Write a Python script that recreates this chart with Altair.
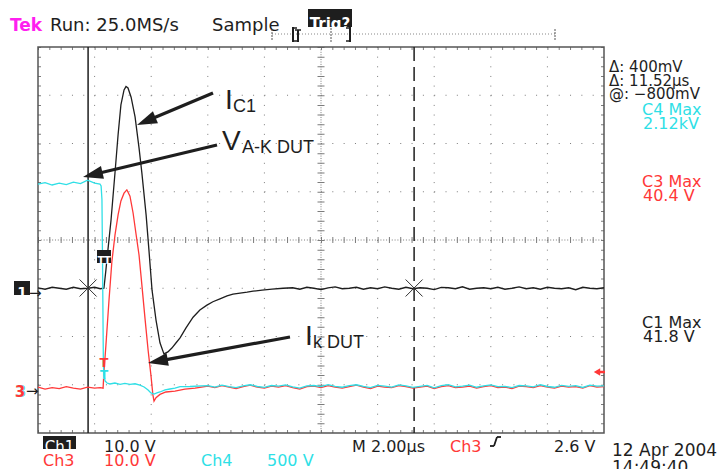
import math
import altair as alt
import pandas as pd

# ---------------- values ----------------
# time: µs from the left edge of the graticule (M 2.00 µs/div, 10 div)
black_t = [0.00, 0.25, 0.50, 0.75, 1.00, 1.25, 1.50, 1.77, 2.00, 2.20,
           2.33, 2.40, 2.47, 2.58, 2.72, 2.83, 2.93, 3.04, 3.11, 3.18,
           3.29, 3.43, 3.57, 3.67, 3.82, 3.92, 4.03, 4.17, 4.31, 4.45,
           4.59, 4.73, 4.88, 5.02, 5.23, 5.48, 5.72, 5.97, 6.18, 6.43,
           6.68, 6.89, 7.14, 7.39, 7.60, 7.92, 8.27, 8.66,
           9.00, 9.25, 9.50, 9.75, 10.00, 10.25, 10.50, 10.75, 11.00, 11.25,
           11.50, 11.75, 12.00, 12.25, 12.50, 12.75, 13.00, 13.25, 13.50, 13.75,
           14.00, 14.25, 14.50, 14.75, 15.00, 15.25, 15.50, 15.75, 16.00, 16.25,
           16.50, 16.75, 17.00, 17.25, 17.50, 17.75, 18.00, 18.25, 18.50, 18.75,
           19.00, 19.25, 19.50, 19.75, 20.00]
# Ch1 (I_C1), volts, 10 V/div
black_v = [0.1, -0.2, 0.2, 0.0, -0.2, 0.2, -0.1, 0.0, 0.2, -0.1,
           0.0, 3.8, 7.9, 14.1, 23.9, 31.8, 38.0, 41.1, 41.8, 41.5,
           39.6, 35.5, 29.1, 23.9, 15.2, 7.9, -0.4, -6.6, -11.3, -13.6,
           -13.2, -12.4, -11.3, -10.3, -8.2, -6.0, -4.5, -3.5, -2.8, -2.2,
           -1.6, -1.2, -1.0, -0.8, -0.6, -0.4, -0.2, 0.0,
           0.1, -0.2, 0.2, 0.0, -0.3, 0.1, 0.3, -0.1, 0.0, 0.2,
           -0.2, 0.1, -0.1, 0.3, 0.0, -0.2, 0.2, -0.1, 0.1, 0.0,
           -0.3, 0.2, 0.1, -0.1, 0.3, -0.2, 0.0, 0.1, -0.1, 0.2,
           -0.2, 0.0, 0.3, -0.1, 0.1, -0.2, 0.2, 0.0, -0.1, 0.1,
           -0.3, 0.2, 0.0, -0.1, 0.1]

red_t = [0.00, 0.25, 0.50, 0.75, 1.00, 1.25, 1.50, 1.75, 2.00, 2.20,
         2.30, 2.33, 2.40, 2.51, 2.61, 2.72, 2.83, 2.93, 3.04, 3.14,
         3.25, 3.36, 3.46, 3.57, 3.67, 3.78, 3.89, 3.99, 4.06, 4.10,
         4.17, 4.31, 4.52, 4.84, 5.19, 5.55,
         6.00, 6.25, 6.50, 6.75, 7.00, 7.25, 7.50, 7.75, 8.00, 8.25,
         8.50, 8.75, 9.00, 9.25, 9.50, 9.75, 10.00, 10.25, 10.50, 10.75,
         11.00, 11.25, 11.50, 11.75, 12.00, 12.25, 12.50, 12.75, 13.00, 13.25,
         13.50, 13.75, 14.00, 14.25, 14.50, 14.75, 15.00, 15.25, 15.50, 15.75,
         16.00, 16.25, 16.50, 16.75, 17.00, 17.25, 17.50, 17.75, 18.00, 18.25,
         18.50, 18.75, 19.00, 19.25, 19.50, 19.75, 20.00]
# Ch3 (I_k DUT), volts, 10 V/div
red_v = [-0.5, -0.9, -0.6, -0.8, -0.4, -0.7, -0.9, -0.5, -0.7, -0.6,
         -0.7, 2.6, 8.2, 17.6, 25.5, 31.0, 35.2, 38.1, 39.7, 40.4,
         39.1, 35.6, 31.4, 26.9, 20.7, 13.8, 7.2, 2.0, -2.1, -3.4,
         -2.7, -2.0, -1.5, -1.3, -0.9, -0.7,
         -0.3, -0.6, -0.2, -0.5, -0.8, -0.4, -0.1, -0.5, -0.7, -0.3,
         -0.5, -0.2, -0.6, -0.9, -0.4, -0.3, -0.6, -0.2, -0.5, -0.7,
         -0.4, -0.1, -0.5, -0.8, -0.3, -0.5, -0.6, -0.2, -0.4, -0.7,
         -0.5, -0.3, -0.8, -0.4, -0.2, -0.6, -0.5, -0.3, -0.7, -0.4,
         -0.2, -0.6, -0.5, -0.8, -0.3, -0.4, -0.6, -0.2, -0.5, -0.7,
         -0.3, -0.5, -0.4, -0.7, -0.2, -0.5, -0.4]

cyan_t = [0.00, 0.25, 0.50, 0.75, 1.00, 1.25, 1.50, 1.75, 2.00, 2.19,
          2.23, 2.26, 2.28, 2.30, 2.31, 2.33, 2.37, 2.44, 2.54, 2.72,
          2.90, 3.07, 3.25, 3.43, 3.60, 3.75, 3.89, 3.99, 4.10, 4.20,
          4.31, 4.49, 4.66, 4.84, 5.02, 5.37,
          6.00, 6.25, 6.50, 6.75, 7.00, 7.25, 7.50, 7.75, 8.00, 8.25,
          8.50, 8.75, 9.00, 9.25, 9.50, 9.75, 10.00, 10.25, 10.50, 10.75,
          11.00, 11.25, 11.50, 11.75, 12.00, 12.25, 12.50, 12.75, 13.00, 13.25,
          13.50, 13.75, 14.00, 14.25, 14.50, 14.75, 15.00, 15.25, 15.50, 15.75,
          16.00, 16.25, 16.50, 16.75, 17.00, 17.25, 17.50, 17.75, 18.00, 18.25,
          18.50, 18.75, 19.00, 19.25, 19.50, 19.75, 20.00]
# Ch4 (V_A-K DUT), volts, 500 V/div
cyan_v = [2080, 2095, 2070, 2090, 2075, 2100, 2085, 2120, 2090, 2080,
          2060, 1917, 1293, 567, 205, 101, 39, 18, 8, 18,
          5, 15, 3, 10, -3, -23, -54, -85, -96, -85,
          -75, -54, -44, -34, -20, -18,
          -10, -25, -5, -20, -30, -12, 0, -18, -28, -8,
          -15, -2, -22, -35, -12, -8, -20, 2, -16, -26,
          -10, 0, -18, -30, -6, -14, -24, -2, -12, -28,
          -16, -6, -32, -10, 0, -22, -14, -4, -26, -12,
          -2, -20, -16, -30, -8, -12, -22, 0, -18, -26,
          -6, -16, -10, -28, -4, -14, -12]

cursor_t = [1.77, 13.29]          # Δ = 11.52 µs
grid_t = [2, 4, 6, 8, 12, 14, 16, 18]
grid_div = [-3, -2, -1, 1, 2, 3]

# ---------------- layout / style ----------------
W, H = 566, 386
OX, OY = 38, 47            # page position of the graticule's top-left corner
GRID = "#7c7c7c"
INK = "#1e1e1e"
RED = "#ff3838"
CYAN = "#2fdfe6"
MAG = "#ff1ff0"
SCOPE_FONT = "DejaVu Sans"
ANN_FONT = "Liberation Sans"

xs = alt.Scale(domain=[0, 20], nice=False, zero=False)
div_scale = alt.Scale(domain=[-4, 4], nice=False, zero=False)
ch1_scale = alt.Scale(domain=[-30, 50], nice=False, zero=False)
ch3_scale = alt.Scale(domain=[-10, 70], nice=False, zero=False)
ch4_scale = alt.Scale(domain=[-500, 3500], nice=False, zero=False)

one = pd.DataFrame({"k": [0]})
HMINOR = W / 50.0
VMINOR = H / 40.0


def hline_px(yv, dash, width=1.0, color=GRID):
    return alt.Chart(one).mark_rule(color=color, strokeWidth=width, strokeDash=dash).encode(
        x=alt.value(0), x2=alt.value(W), y=alt.value(yv))


def vline_px(xv, dash, width=1.0, color=GRID):
    return alt.Chart(one).mark_rule(color=color, strokeWidth=width, strokeDash=dash).encode(
        x=alt.value(xv), y=alt.value(0), y2=alt.value(H))


def trace(t, v, scale, color):
    df = pd.DataFrame({"t": t, "v": v})
    return alt.Chart(df).mark_line(color=color, strokeWidth=1.3).encode(
        x=alt.X("t:Q", scale=xs, axis=None),
        y=alt.Y("v:Q", scale=scale, axis=None))


def label(rows, **kw):
    df = pd.DataFrame({"s": [r[0] for r in rows],
                       "px": [r[1] - OX for r in rows],
                       "py": [r[2] - OY for r in rows]})
    return alt.Chart(df).mark_text(**kw).encode(
        x=alt.X("px:Q", scale=None, axis=None),
        y=alt.Y("py:Q", scale=None, axis=None),
        text="s:N")


def boxes(rows, color):
    df = pd.DataFrame({"x1": [r[0] - OX for r in rows], "x2": [r[2] - OX for r in rows],
                       "y1": [r[1] - OY for r in rows], "y2": [r[3] - OY for r in rows]})
    return alt.Chart(df).mark_rect(color=color).encode(
        x=alt.X("x1:Q", scale=None, axis=None), x2="x2:Q",
        y=alt.Y("y1:Q", scale=None, axis=None), y2="y2:Q")


def segs(rows, color, width, dash=None):
    df = pd.DataFrame({"x1": [r[0] - OX for r in rows], "y1": [r[1] - OY for r in rows],
                       "x2": [r[2] - OX for r in rows], "y2": [r[3] - OY for r in rows]})
    kw = dict(color=color, strokeWidth=width)
    if dash:
        kw["strokeDash"] = dash
    return alt.Chart(df).mark_rule(**kw).encode(
        x=alt.X("x1:Q", scale=None, axis=None), x2="x2:Q",
        y=alt.Y("y1:Q", scale=None, axis=None), y2="y2:Q")


layers = []

# ---- graticule ----
layers.append(alt.Chart(pd.DataFrame({"d": grid_div})).mark_rule(
    color=GRID, strokeWidth=1, strokeDash=[1, HMINOR - 1]).encode(
    x=alt.value(0), x2=alt.value(W), y=alt.Y("d:Q", scale=div_scale, axis=None)))
layers.append(alt.Chart(pd.DataFrame({"t": grid_t})).mark_rule(
    color=GRID, strokeWidth=1, strokeDash=[1, VMINOR - 1]).encode(
    x=alt.X("t:Q", scale=xs, axis=None), y=alt.value(0), y2=alt.value(H)))
# centre cross with minor ticks
layers.append(hline_px(H / 2, [1, HMINOR / 4 - 1]))
layers.append(hline_px(H / 2, [1, HMINOR - 1], width=6))
layers.append(vline_px(W / 2, [1, VMINOR / 4 - 1]))
layers.append(vline_px(W / 2, [1, VMINOR - 1], width=7))
# ticks along the frame
layers.append(hline_px(1.5, [1, HMINOR - 1], width=3))
layers.append(hline_px(H - 1.5, [1, HMINOR - 1], width=3))
layers.append(vline_px(1.5, [1, VMINOR - 1], width=3))
layers.append(vline_px(W - 1.5, [1, VMINOR - 1], width=3))
# frame
layers.append(alt.Chart(one).mark_rect(fill="transparent", stroke="#555555", strokeWidth=1.5).encode(
    x=alt.value(0), x2=alt.value(W), y=alt.value(0), y2=alt.value(H)))

# ---- cursors ----
cur = pd.DataFrame({"t": cursor_t, "kind": ["a", "b"]})
layers.append(alt.Chart(cur.iloc[[0]]).mark_rule(color=INK, strokeWidth=1.5).encode(
    x=alt.X("t:Q", scale=xs, axis=None), y=alt.value(0), y2=alt.value(H)))
layers.append(alt.Chart(cur.iloc[[1]]).mark_rule(color=INK, strokeWidth=1.5, strokeDash=[14, 6]).encode(
    x=alt.X("t:Q", scale=xs, axis=None), y=alt.value(0), y2=alt.value(H)))

# ---- traces ----
layers.append(trace(black_t, black_v, ch1_scale, INK))
layers.append(trace(red_t, red_v, ch3_scale, RED))
layers.append(trace(cyan_t, cyan_v, ch4_scale, CYAN))

# cursor crossing marks
layers.append(alt.Chart(cur).mark_point(shape="M-1,-1L1,1M-1,1L1,-1", filled=False, color="#333333",
                                        strokeWidth=1, size=289, opacity=1).encode(
    x=alt.X("t:Q", scale=xs, axis=None), y=alt.value(288 - OY)))

# ---- channel / trigger markers ----
layers.append(boxes([(14, 281, 30, 295), (97, 250, 111, 263)], INK))
layers.append(label([("1", 22, 293)], font=SCOPE_FONT, fontSize=14, fontWeight="bold", color="white", align="center"))
layers.append(label([("T", 101, 261), ("T", 107.5, 261)], font=SCOPE_FONT, fontSize=10, fontWeight="bold",
                    color="white", align="center"))
layers.append(label([("→", 29, 293), ("→", 26, 391)], font=SCOPE_FONT, fontSize=15, color=INK, align="left"))
layers.append(label([("3", 21, 392)], font=SCOPE_FONT, fontSize=15, fontWeight="bold", color=CYAN, align="center"))
layers.append(label([("3", 20, 392)], font=SCOPE_FONT, fontSize=15, fontWeight="bold", color=RED, align="center"))
layers.append(label([("T", 104, 363)], font=SCOPE_FONT, fontSize=13, fontWeight="bold", color=RED, align="center"))
layers.append(label([("T", 104, 375)], font=SCOPE_FONT, fontSize=12, fontWeight="bold", color=CYAN, align="center"))
# trigger level arrow (Ch3, 2.6 V)
layers.append(segs([(597, 372, 605, 372)], RED, 2.5))
layers.append(alt.Chart(one).mark_point(shape="triangle-left", filled=True, color=RED, size=55, opacity=1).encode(
    x=alt.value(597 - OX), y=alt.value(372 - OY)))

# ---- header ----
layers.append(label([("Tek", 10, 26)], font=SCOPE_FONT, fontSize=17, fontWeight="bold", color=MAG, align="left"))
layers.append(label([("Run: 25.0MS/s", 50, 26), ("Sample", 212, 26)], font=SCOPE_FONT, fontSize=18,
                    color=INK, align="left"))
layers.append(boxes([(308, 9, 352, 27)], INK))
layers.append(label([("Trig?", 330, 24)], font=SCOPE_FONT, fontSize=15, fontWeight="bold", color="white",
                    align="center"))
layers.append(segs([(272, 34, 555, 34)], "#888888", 1, [1, 2]))
layers.append(segs([(272, 29, 272, 40), (555, 29, 555, 40), (331, 28, 331, 42)], "#555555", 1, [2, 1]))
layers.append(segs([(293, 27, 293, 42), (350, 27, 350, 42), (298, 30, 298, 42)], INK, 2))
layers.append(segs([(293, 28, 297, 28), (293, 41, 297, 41), (346, 28, 350, 28), (346, 41, 350, 41),
                    (295, 30, 301, 30)], INK, 1.5))

# ---- right-hand readouts ----
layers.append(label([("Δ: 400mV", 609, 67), ("Δ: 11.52µs", 609, 80.5), ("@: −800mV", 609, 94)],
                    font=SCOPE_FONT, fontSize=15, color=INK, align="left"))
layers.append(label([("C1 Max", 642, 323), ("41.8 V", 643, 337)],
                    font=SCOPE_FONT, fontSize=16, color=INK, align="left"))
layers.append(label([("C4 Max", 642, 110), ("2.12kV", 643, 124)], font=SCOPE_FONT, fontSize=16,
                    color=CYAN, align="left"))
layers.append(label([("C3 Max", 642, 182), ("40.4 V", 643, 196)], font=SCOPE_FONT, fontSize=16,
                    color=RED, align="left"))

# ---- bottom readouts ----
layers.append(boxes([(43, 436, 76, 449)], INK))
layers.append(label([("Ch1", 59.5, 447)], font=SCOPE_FONT, fontSize=15, color="white", align="center"))
layers.append(label([("10.0 V", 104, 447), ("M 2.00µs", 352, 447), ("2.6 V", 554, 447)],
                    font=SCOPE_FONT, fontSize=16, color=INK, align="left"))
layers.append(label([("12 Apr 2004", 612, 451), ("14:49:40", 612, 468)],
                    font=SCOPE_FONT, fontSize=17, color=INK, align="left"))
layers.append(label([("Ch3", 450, 447), ("Ch3", 43, 461), ("10.0 V", 104, 461)],
                    font=SCOPE_FONT, fontSize=16, color=RED, align="left"))
layers.append(label([("Ch4", 201, 461), ("500 V", 267, 461)],
                    font=SCOPE_FONT, fontSize=16, color=CYAN, align="left"))
layers.append(segs([(490, 446, 494, 446), (494, 446, 497, 437), (497, 437, 501, 437)], INK, 1.8))

# ---- annotations ----
layers.append(label([("I", 225, 101), ("V", 222, 142), ("I", 305, 337)], font=ANN_FONT, fontSize=28,
                    color=INK, align="left"))
layers.append(label([("C1", 233, 107), ("A-K DUT", 242, 148), ("k DUT", 313, 343)], font=ANN_FONT,
                    fontSize=18, color=INK, align="left"))

arrows = [(213, 93, 137, 125), (217, 145, 83, 177), (290, 337, 148, 363)]
HEAD = 20
shaft = []
for x1, y1, x2, y2 in arrows:
    dx, dy = x2 - x1, y2 - y1
    n = math.hypot(dx, dy)
    ux, uy = dx / n, dy / n
    shaft.append((x1, y1, x2 - ux * HEAD * 0.8, y2 - uy * HEAD * 0.8))
    cx, cy = x2 - ux * HEAD / 2, y2 - uy * HEAD / 2
    ang = math.degrees(math.atan2(ux, -uy)) % 360
    layers.append(alt.Chart(one).mark_point(shape="M0,-1L0.65,1L-0.65,1Z", filled=True, color=INK,
                                            size=HEAD * HEAD, angle=ang, opacity=1).encode(
        x=alt.value(cx - OX), y=alt.value(cy - OY)))
layers.append(segs(shaft, INK, 3.2))

chart = alt.layer(*layers).resolve_scale(y="independent").properties(
    width=W, height=H,
    padding={"left": 30, "top": 39, "right": 114, "bottom": 36},
    autosize=alt.AutoSizeParams(type="none"),
    background="white",
).configure_view(strokeWidth=0)

chart.save("out.html", embed_options={"renderer": "svg", "actions": False})
